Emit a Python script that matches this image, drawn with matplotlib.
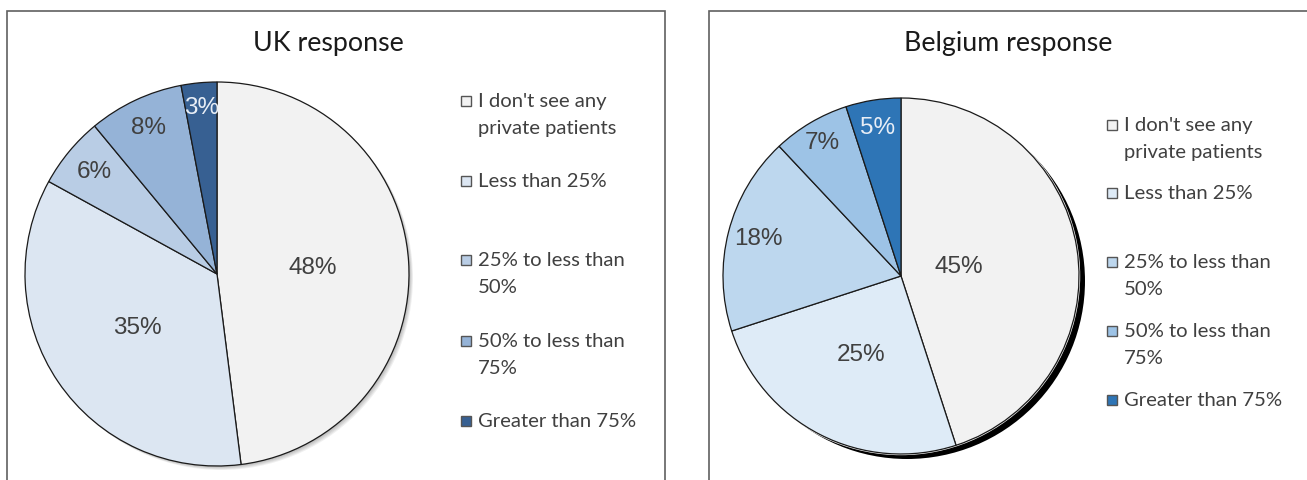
#!/usr/bin/env python3
# Private patients share: UK vs Belgium pie charts

import matplotlib
matplotlib.use("Agg")
import matplotlib.pyplot as plt
from matplotlib.patches import Rectangle, Circle
import numpy as np

# categories (legend order)
categories = ["I don't see any\nprivate patients", "Less than 25%",
              "25% to less than\n50%", "50% to less than\n75%", "Greater than 75%"]

uk_values = [48, 35, 6, 8, 3]
be_values = [45, 25, 18, 7, 5]

uk_colors = ["#F2F2F2", "#DCE6F2", "#B9CDE5", "#95B3D7", "#376092"]
be_colors = ["#F2F2F2", "#DEEBF7", "#BDD7EE", "#9DC3E6", "#2E75B6"]

W, H = 1307, 480
fig = plt.figure(figsize=(W / 100, H / 100), dpi=100)
fig.patch.set_facecolor("white")


def fx(x):
    return x / W


def fy(y):
    return 1 - y / H


def frame(x0, x1, y0):
    fig.add_artist(Rectangle((fx(x0), fy(H + 5)), fx(x1 - x0), (H + 5 - y0) / H,
                             transform=fig.transFigure, fill=False,
                             edgecolor="#606060", linewidth=1.2))


def draw_panel(cx, cy, r, values, colors, title, title_x, legend_x, legend_ys,
               label_dist, light_idx, shadow):
    ax = fig.add_axes([fx(cx - r), fy(cy + r), 2 * r / W, 2 * r / H])
    ax.set_xlim(-1, 1)
    ax.set_ylim(-1, 1)
    ax.axis("off")

    px = 1.0 / r  # one pixel in data units
    if shadow == "soft":
        for k in range(1, 6):
            ax.add_patch(Circle((k * 0.8 * px, -k * 0.8 * px), 1.0, color="#000000",
                                alpha=0.06, lw=0, zorder=0, clip_on=False))
    else:
        ax.add_patch(Circle((6 * px, -5 * px), 1.0, color="black", lw=0,
                            zorder=0, clip_on=False))
        ax.add_patch(Circle((0, 0), 1.0 + 1.2 * px, color="white", lw=0,
                            zorder=0.5, clip_on=False))

    wedges, _ = ax.pie(values, colors=colors, startangle=90, counterclock=False,
                       radius=1.0, wedgeprops=dict(edgecolor="#1a1a1a", linewidth=0.9))
    ax.set_xlim(-1, 1)
    ax.set_ylim(-1, 1)
    for w in wedges:
        w.set_clip_on(False)

    for i, (w, v) in enumerate(zip(wedges, values)):
        mid = np.deg2rad((w.theta1 + w.theta2) / 2)
        d = label_dist[i]
        col = "#E8EEF6" if i == light_idx else "#404040"
        ax.text(d * np.cos(mid), d * np.sin(mid), f"{v}%", ha="center", va="center",
                fontsize=17.5, color=col, family="Liberation Sans")

    fig.text(fx(title_x), fy(44), title, ha="center", va="center",
             fontsize=19.3, family="Lato", color="#1a1a1a")

    for lab, col, ly in zip(categories, colors, legend_ys):
        fig.add_artist(Rectangle((fx(legend_x), fy(ly + 5)), 10 / W, 10 / H,
                                 transform=fig.transFigure, facecolor=col,
                                 edgecolor="#555555", linewidth=1.0))
        fig.text(fx(legend_x + 17), fy(ly - 8), lab, ha="left", va="top",
                 fontsize=14.6, family="Lato", color="#404040", linespacing=1.72)


frame(7, 665, 11)
frame(709, 1320, 11)

draw_panel(217, 274, 192, uk_values, uk_colors, "UK response", 328, 461,
           [101, 181, 260, 341, 421], [0.5, 0.5, 0.83, 0.84, 0.87], 4, "soft")
draw_panel(901, 276, 178, be_values, be_colors, "Belgium response", 1008, 1107,
           [125, 193, 262, 331, 400], [0.33, 0.5, 0.83, 0.87, 0.84], 4, "hard")

fig.savefig("out.png", dpi=100, facecolor="white")
